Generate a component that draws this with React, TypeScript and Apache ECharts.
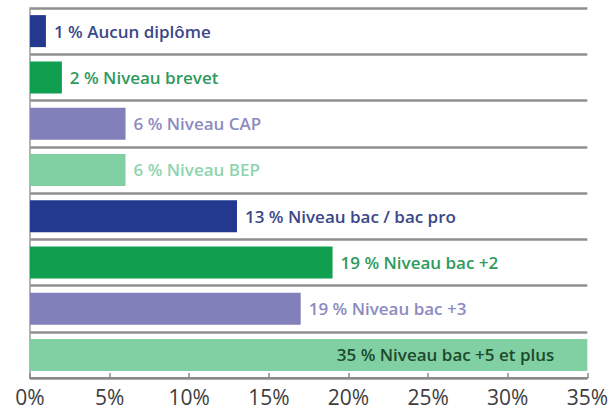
import React, { useEffect, useRef } from "react";
import * as echarts from "echarts";

const categories = [
  "Aucun diplôme",
  "Niveau brevet",
  "Niveau CAP",
  "Niveau BEP",
  "Niveau bac / bac pro",
  "Niveau bac +2",
  "Niveau bac +3",
  "Niveau bac +5 et plus",
];
const barValues = [1, 2, 6, 6, 13, 19, 17, 35];
const labelPercents = [1, 2, 6, 6, 13, 19, 19, 35];
const barColors = ["#22398f", "#0f9f4f", "#8280bb", "#80d0a4", "#22398f", "#0f9f4f", "#8280bb", "#80d0a4"];
const labelColors = ["#3b4788", "#2e9a5c", "#8c8bc0", "#8ed4ae", "#3b4788", "#2e9a5c", "#8c8bc0", "#1d4a2b"];
const xTicks = [0, 5, 10, 15, 20, 25, 30, 35];

export default function App() {
  const ref = useRef<HTMLDivElement>(null);
  useEffect(() => {
    const chart = echarts.init(ref.current!, null, { renderer: "svg" });
    const font = "'Open Sans', 'Noto Sans', sans-serif";
    chart.setOption({
      animation: false,
      grid: { left: 30, right: 23, top: 8, bottom: 31, containLabel: false },
      xAxis: {
        type: "value",
        min: xTicks[0],
        max: xTicks[xTicks.length - 1],
        interval: 5,
        axisLine: { show: true, lineStyle: { color: "#8a8a8a", width: 2 } },
        axisTick: { show: true, inside: true, length: 5, lineStyle: { color: "#8a8a8a", width: 1.5 } },
        splitLine: { show: false },
        axisLabel: {
          formatter: (v: number) => `${v}%`,
          color: "#3d3d3d",
          fontSize: 21,
          fontFamily: font,
          margin: 8,
        },
      },
      yAxis: {
        type: "category",
        inverse: true,
        data: categories,
        axisLine: { show: true, lineStyle: { color: "#9a9a9a", width: 1.5 } },
        axisTick: { show: false },
        axisLabel: { show: false },
        splitLine: { show: true, lineStyle: { color: "#8f8f8f", width: 2.5 } },
      },
      series: [
        {
          type: "bar",
          barWidth: 32,
          data: barValues.map((v, i) => {
            const last = i === barValues.length - 1;
            return {
              value: v,
              itemStyle: { color: barColors[i] },
              label: {
                show: true,
                position: last ? "insideRight" : "right",
                distance: last ? 33 : 8,
                formatter: `${labelPercents[i]} % ${categories[i]}`,
                color: labelColors[i],
                fontSize: 17,
                fontWeight: 600,
                fontFamily: font,
              },
            };
          }),
        },
      ],
    });
    return () => chart.dispose();
  }, []);
  return <div ref={ref} style={{ width: 611, height: 409, position: "absolute", left: 0, top: 0, background: "#fff" }} />;
}
